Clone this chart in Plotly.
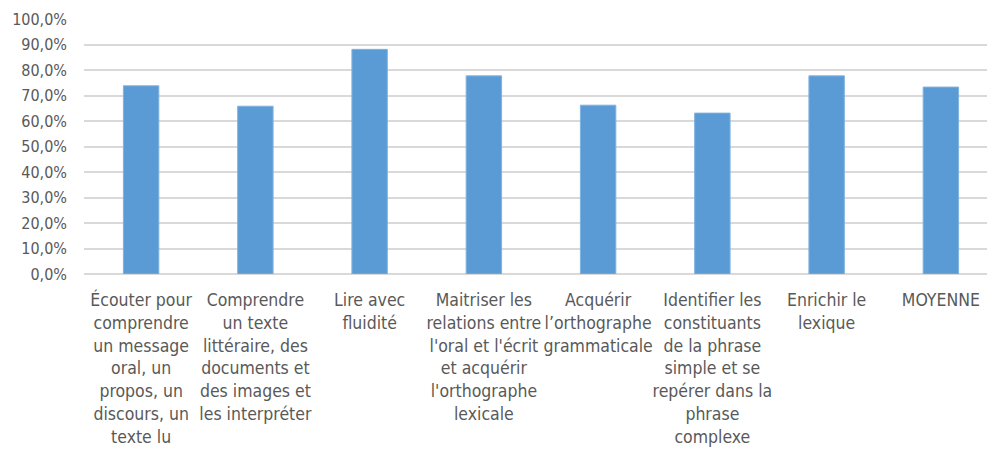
import plotly.graph_objects as go

categories = [
    "Écouter pour<br>comprendre<br>un message<br>oral, un<br>propos, un<br>discours, un<br>texte lu",
    "Comprendre<br>un texte<br>littéraire, des<br>documents et<br>des images et<br>les interpréter",
    "Lire avec<br>fluidité",
    "Maitriser les<br>relations entre<br>l'oral et l'écrit<br>et acquérir<br>l'orthographe<br>lexicale",
    "Acquérir<br>l’orthographe<br>grammaticale",
    "Identifier les<br>constituants<br>de la phrase<br>simple et se<br>repérer dans la<br>phrase<br>complexe",
    "Enrichir le<br>lexique",
    "MOYENNE",
]
values = [0.738, 0.658, 0.881, 0.777, 0.662, 0.631, 0.777, 0.733]

font_family = "DejaVu Sans Condensed, Liberation Sans Narrow, sans-serif"

fig = go.Figure(
    go.Bar(
        x=categories,
        y=values,
        marker=dict(color="#5B9BD5", line=dict(color="#7FB2E0", width=1)),
        hoverinfo="skip",
    )
)

fig.update_layout(
    width=995,
    height=465,
    margin=dict(l=76, r=5, t=11, b=199),
    plot_bgcolor="white",
    paper_bgcolor="white",
    separators=", ",
    bargap=0.69,
    showlegend=False,
    font=dict(family=font_family, size=16, color="#595959"),
)
fig.update_yaxes(
    range=[0, 1],
    dtick=0.1,
    tickformat=".1%",
    showgrid=True,
    gridcolor="#D9D9D9",
    gridwidth=1.5,
    zeroline=True,
    zerolinecolor="#D9D9D9",
    zerolinewidth=1.5,
    ticks="",
    ticklabelstandoff=16,
    automargin=False,
    tickfont=dict(family=font_family, size=16, color="#595959"),
)
fig.update_xaxes(
    showgrid=False,
    ticks="outside",
    ticklen=10,
    tickcolor="rgba(0,0,0,0)",
    automargin=False,
    tickfont=dict(family=font_family, size=17.5, color="#595959"),
    tickangle=0,
)

fig.write_html("out.html")
